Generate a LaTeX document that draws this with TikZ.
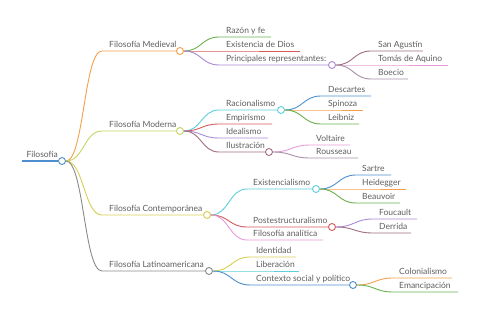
\documentclass[tikz,border=0pt]{standalone}
\usepackage{fontspec}
\setmainfont{Lato}
\usetikzlibrary{calc}
\definecolor{cblue}{HTML}{4F8FCF}
\definecolor{corange}{HTML}{F4A04A}
\definecolor{cmod}{HTML}{C5D65F}
\definecolor{ccon}{HTML}{D6CF55}
\definecolor{cgray}{HTML}{8A8A8A}
\definecolor{cgreen}{HTML}{6AB04C}
\definecolor{cred}{HTML}{D65A5A}
\definecolor{cpurple}{HTML}{A98AD6}
\definecolor{ccyan}{HTML}{5CCFDC}
\definecolor{cbrown}{HTML}{A0707C}
\definecolor{cpink}{HTML}{E69AD8}
\definecolor{cmauve}{HTML}{A890A8}
\definecolor{ctext}{HTML}{5E5E5E}
\tikzset{
  lbl/.style={anchor=base west, inner sep=0pt, text=ctext, font=\fontsize{8.5}{10}\selectfont},
  dot/.style={circle, draw, fill=white, minimum size=7pt, inner sep=0pt, line width=0.9pt},
  branch/.style={to path={let \p1=(\tikztostart), \p2=(\tikztotarget), \n1={0.5*(\x2-\x1)} in .. controls (\x1+\n1,\y1) and (\x2-\n1,\y2) .. (\tikztotarget)}},
  lk/.style={line width=0.9pt}
}
\begin{document}
\begin{tikzpicture}[x=1pt,y=-1pt]
\useasboundingbox (0,0) rectangle (480,320);
% root
\coordinate (rs) at (22,161);
\node[dot, draw=cblue] (r) at (62,161) {};
\draw[cblue, line width=1.3pt] (rs) -- (r);
\node[lbl, anchor=base east] (rt) at (58,158) {Filosofía};

% level 1
\node[dot, draw=corange] (m1) at (180,51) {};
\node[dot, draw=cmod] (m2) at (180,131) {};
\node[dot, draw=ccon] (m3) at (207,215) {};
\node[dot, draw=cgray] (m4) at (209,271) {};
\coordinate (m1s) at (102,51);
\coordinate (m2s) at (102,131);
\coordinate (m3s) at (102,215);
\coordinate (m4s) at (102,271);
\draw[lk, corange] (r.east) to[branch] (m1s) -- (m1);
\draw[lk, cmod] (r.east) to[branch] (m2s) -- (m2);
\draw[lk, ccon] (r.east) to[branch] (m3s) -- (m3);
\draw[lk, cgray] (r.east) to[branch] (m4s) -- (m4);
\node[lbl] (m1t) at (109,48) {Filosofía Medieval};
\node[lbl] (m2t) at (109,128) {Filosofía Moderna};
\node[lbl] (m3t) at (109,212) {Filosofía Contemporánea};
\node[lbl] (m4t) at (109,268) {Filosofía Latinoamericana};

% Medieval
\node[dot, draw=cpurple] (p) at (332,65) {};
\coordinate (a1s) at (219,37); \coordinate (a1e) at (271,37);
\coordinate (a2s) at (219,51); \coordinate (a2e) at (300,51);
\coordinate (a3s) at (219,65);
\draw[lk, cgreen] (m1.east) to[branch] (a1s) -- (a1e);
\draw[lk, cred] (m1.east) to[branch] (a2s) -- (a2e);
\draw[lk, cpurple] (m1.east) to[branch] (a3s) -- (p);
\node[lbl] (a1t) at (226,34) {Razón y fe};
\node[lbl] (a2t) at (226,48) {Existencia de Dios};
\node[lbl] (a3t) at (226,62) {Principales representantes:};
\coordinate (b1s) at (371,51); \coordinate (b1e) at (423,51);
\coordinate (b2s) at (371,65); \coordinate (b2e) at (448,65);
\coordinate (b3s) at (371,79); \coordinate (b3e) at (408,79);
\draw[lk, cbrown] (p.east) to[branch] (b1s) -- (b1e);
\draw[lk, cpink] (p.east) to[branch] (b2s) -- (b2e);
\draw[lk, cmauve] (p.east) to[branch] (b3s) -- (b3e);
\node[lbl] (b1t) at (378,48) {San Agustín};
\node[lbl] (b2t) at (378,62) {Tomás de Aquino};
\node[lbl] (b3t) at (378,76) {Boecio};

% Moderna
\node[dot, draw=ccyan] (ra) at (281,110) {};
\node[dot, draw=cbrown] (il) at (269,152) {};
\coordinate (c1s) at (219,110);
\coordinate (c2s) at (219,124); \coordinate (c2e) at (272,124);
\coordinate (c3s) at (219,138); \coordinate (c3e) at (268,138);
\coordinate (c4s) at (219,152);
\draw[lk, ccyan] (m2.east) to[branch] (c1s) -- (ra);
\draw[lk, cred] (m2.east) to[branch] (c2s) -- (c2e);
\draw[lk, cpurple] (m2.east) to[branch] (c3s) -- (c3e);
\draw[lk, cbrown] (m2.east) to[branch] (c4s) -- (il);
\node[lbl] (c1t) at (226,107) {Racionalismo};
\node[lbl] (c2t) at (226,121) {Empirismo};
\node[lbl] (c3t) at (226,135) {Idealismo};
\node[lbl] (c4t) at (226,149) {Ilustración};
\coordinate (d1s) at (321,96); \coordinate (d1e) at (371,96);
\coordinate (d2s) at (321,110); \coordinate (d2e) at (363,110);
\coordinate (d3s) at (321,124); \coordinate (d3e) at (359,124);
\draw[lk, cblue] (ra.east) to[branch] (d1s) -- (d1e);
\draw[lk, corange] (ra.east) to[branch] (d2s) -- (d2e);
\draw[lk, cgreen] (ra.east) to[branch] (d3s) -- (d3e);
\node[lbl] (d1t) at (328,93) {Descartes};
\node[lbl] (d2t) at (328,107) {Spinoza};
\node[lbl] (d3t) at (328,121) {Leibniz};
\coordinate (e1s) at (310,145); \coordinate (e1e) at (350,145);
\coordinate (e2s) at (310,158); \coordinate (e2e) at (358,158);
\draw[lk, cpink] (il.east) to[branch] (e1s) -- (e1e);
\draw[lk, cmauve] (il.east) to[branch] (e2s) -- (e2e);
\node[lbl] (e1t) at (316,142) {Voltaire};
\node[lbl] (e2t) at (316,155) {Rousseau};

% Contemporanea
\node[dot, draw=ccyan] (ex) at (316,189) {};
\node[dot, draw=cred] (po) at (332,227) {};
\coordinate (f1s) at (247,189);
\coordinate (f2s) at (247,227);
\coordinate (f3s) at (247,240); \coordinate (f3e) at (323,240);
\draw[lk, ccyan] (m3.east) to[branch] (f1s) -- (ex);
\draw[lk, cred] (m3.east) to[branch] (f2s) -- (po);
\draw[lk, cpink] (m3.east) to[branch] (f3s) -- (f3e);
\node[lbl] (f1t) at (253,186) {Existencialismo};
\node[lbl] (f2t) at (253,224) {Postestructuralismo};
\node[lbl] (f3t) at (253,237) {Filosofía analítica};
\coordinate (g1s) at (356,175); \coordinate (g1e) at (391,175);
\coordinate (g2s) at (356,189); \coordinate (g2e) at (406,189);
\coordinate (g3s) at (356,203); \coordinate (g3e) at (400,203);
\draw[lk, cblue] (ex.east) to[branch] (g1s) -- (g1e);
\draw[lk, corange] (ex.east) to[branch] (g2s) -- (g2e);
\draw[lk, cgreen] (ex.east) to[branch] (g3s) -- (g3e);
\node[lbl] (g1t) at (362,172) {Sartre};
\node[lbl] (g2t) at (362,186) {Heidegger};
\node[lbl] (g3t) at (362,200) {Beauvoir};
\coordinate (h1s) at (373,219); \coordinate (h1e) at (417,219);
\coordinate (h2s) at (373,233); \coordinate (h2e) at (411,233);
\draw[lk, cpurple] (po.east) to[branch] (h1s) -- (h1e);
\draw[lk, cbrown] (po.east) to[branch] (h2s) -- (h2e);
\node[lbl] (h1t) at (379,216) {Foucault};
\node[lbl] (h2t) at (379,230) {Derrida};

% Latinoamericana
\node[dot, draw=cblue] (co) at (353,285) {};
\coordinate (i1s) at (250,257); \coordinate (i1e) at (296,257);
\coordinate (i2s) at (250,271); \coordinate (i2e) at (299,271);
\coordinate (i3s) at (250,285);
\draw[lk, ccon] (m4.east) to[branch] (i1s) -- (i1e);
\draw[lk, ccyan] (m4.east) to[branch] (i2s) -- (i2e);
\draw[lk, cblue] (m4.east) to[branch] (i3s) -- (co);
\node[lbl] (i1t) at (256,254) {Identidad};
\node[lbl] (i2t) at (256,268) {Liberación};
\node[lbl] (i3t) at (256,282) {Contexto social y político};
\coordinate (j1s) at (393,278); \coordinate (j1e) at (452,278);
\coordinate (j2s) at (393,292); \coordinate (j2e) at (458,292);
\draw[lk, corange] (co.east) to[branch] (j1s) -- (j1e);
\draw[lk, cgreen] (co.east) to[branch] (j2s) -- (j2e);
\node[lbl] (j1t) at (399,275) {Colonialismo};
\node[lbl] (j2t) at (399,289) {Emancipación};
\end{tikzpicture}
\end{document}
